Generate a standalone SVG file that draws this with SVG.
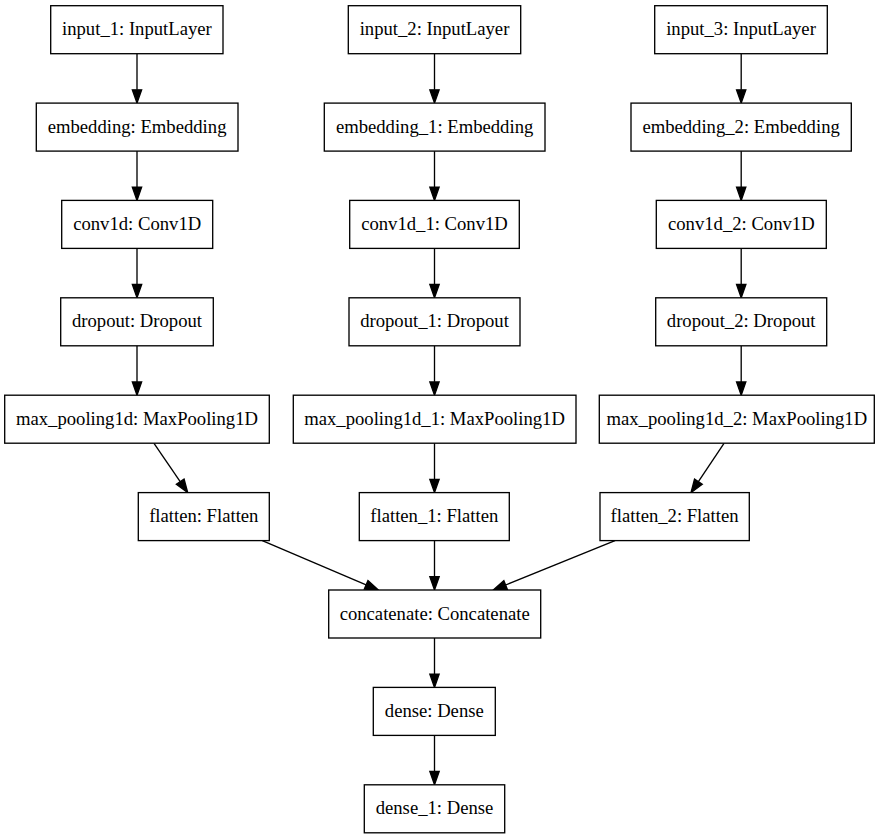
<svg xmlns="http://www.w3.org/2000/svg" width="888" height="839" viewBox="0 0 888 839">
<defs>
<style>
.node rect{fill:#ffffff;stroke:#000000;stroke-width:1.33}
.node text{font-family:"Liberation Serif","Times New Roman",serif;font-size:18.67px;text-anchor:middle;fill:#000000}
#edges path{fill:none;stroke:#000000;stroke-width:1.33;marker-end:url(#arrow)}
</style>
<marker id="arrow" markerUnits="userSpaceOnUse" markerWidth="14" markerHeight="10" refX="0" refY="4.67" orient="auto" overflow="visible">
<path d="M0,0 L13.3,4.67 L0,9.33 z" fill="#000000" stroke="#000000" stroke-width="1.33"/>
</marker>
</defs>
<rect x="0" y="0" width="888" height="839" fill="#ffffff"/>
<g id="edges">
<path d="M137,53.7 L137,89.8"/>
<path d="M137,151.1 L137,187.1"/>
<path d="M137,248.4 L137,284.5"/>
<path d="M137,345.8 L137,381.9"/>
<path d="M154,443.3 L180.2,481.6"/>
<path d="M434.5,53.7 L434.5,89.8"/>
<path d="M434.5,151.1 L434.5,187.1"/>
<path d="M434.5,248.4 L434.5,284.5"/>
<path d="M434.5,345.8 L434.5,381.9"/>
<path d="M434.5,443.2 L434.5,479.3"/>
<path d="M434.5,540.6 L434.5,576.7"/>
<path d="M434.5,638 L434.5,674.1"/>
<path d="M434.5,735.4 L434.5,771.5"/>
<path d="M741.2,53.7 L741.2,89.8"/>
<path d="M741.2,151.1 L741.2,187.1"/>
<path d="M741.2,248.4 L741.2,284.5"/>
<path d="M741.2,345.8 L741.2,381.9"/>
<path d="M724,443.3 L698.4,481.6"/>
<path d="M262.3,540.6 L366.1,584.8"/>
<path d="M615,540.6 L505.6,585"/>
</g>
<g id="input_1" class="node"><rect x="50.7" y="5.7" width="172.3" height="48"/><text x="136.9" y="35.3">input_1: InputLayer</text></g>
<g id="embedding" class="node"><rect x="36.3" y="103.1" width="201.7" height="48"/><text x="137.1" y="132.7">embedding: Embedding</text></g>
<g id="conv1d" class="node"><rect x="61.7" y="200.4" width="151" height="48"/><text x="137.2" y="230">conv1d: Conv1D</text></g>
<g id="dropout" class="node"><rect x="60.7" y="297.8" width="152.6" height="48"/><text x="137" y="327.4">dropout: Dropout</text></g>
<g id="max_pooling1d" class="node"><rect x="4.7" y="395.2" width="264.6" height="48"/><text x="137" y="424.8">max_pooling1d: MaxPooling1D</text></g>
<g id="flatten" class="node"><rect x="138.3" y="492.6" width="131" height="48"/><text x="203.8" y="522.2">flatten: Flatten</text></g>
<g id="input_2" class="node"><rect x="348.3" y="5.7" width="172.4" height="48"/><text x="434.5" y="35.3">input_2: InputLayer</text></g>
<g id="embedding_1" class="node"><rect x="324.3" y="103.1" width="220.7" height="48"/><text x="434.6" y="132.7">embedding_1: Embedding</text></g>
<g id="conv1d_1" class="node"><rect x="349.7" y="200.4" width="169.6" height="48"/><text x="434.5" y="230">conv1d_1: Conv1D</text></g>
<g id="dropout_1" class="node"><rect x="349" y="297.8" width="171" height="48"/><text x="434.5" y="327.4">dropout_1: Dropout</text></g>
<g id="max_pooling1d_1" class="node"><rect x="293.3" y="395.2" width="282.7" height="48"/><text x="434.6" y="424.8">max_pooling1d_1: MaxPooling1D</text></g>
<g id="flatten_1" class="node"><rect x="359.3" y="492.6" width="150" height="48"/><text x="434.3" y="522.2">flatten_1: Flatten</text></g>
<g id="input_3" class="node"><rect x="654.7" y="5.7" width="172.6" height="48"/><text x="741" y="35.3">input_3: InputLayer</text></g>
<g id="embedding_2" class="node"><rect x="631" y="103.1" width="220.3" height="48"/><text x="741.1" y="132.7">embedding_2: Embedding</text></g>
<g id="conv1d_2" class="node"><rect x="656.3" y="200.4" width="170" height="48"/><text x="741.3" y="230">conv1d_2: Conv1D</text></g>
<g id="dropout_2" class="node"><rect x="655.7" y="297.8" width="171" height="48"/><text x="741.2" y="327.4">dropout_2: Dropout</text></g>
<g id="max_pooling1d_2" class="node"><rect x="599.3" y="395.2" width="275" height="48"/><text x="736.8" y="424.8">max_pooling1d_2: MaxPooling1D</text></g>
<g id="flatten_2" class="node"><rect x="600" y="492.6" width="149.3" height="48"/><text x="674.6" y="522.2">flatten_2: Flatten</text></g>
<g id="concatenate" class="node"><rect x="328.7" y="590" width="212" height="48"/><text x="434.7" y="619.6">concatenate: Concatenate</text></g>
<g id="dense" class="node"><rect x="373.3" y="687.4" width="122" height="48"/><text x="434.3" y="717">dense: Dense</text></g>
<g id="dense_1" class="node"><rect x="364.3" y="784.8" width="140.4" height="48"/><text x="434.5" y="814.4">dense_1: Dense</text></g>
</svg>
